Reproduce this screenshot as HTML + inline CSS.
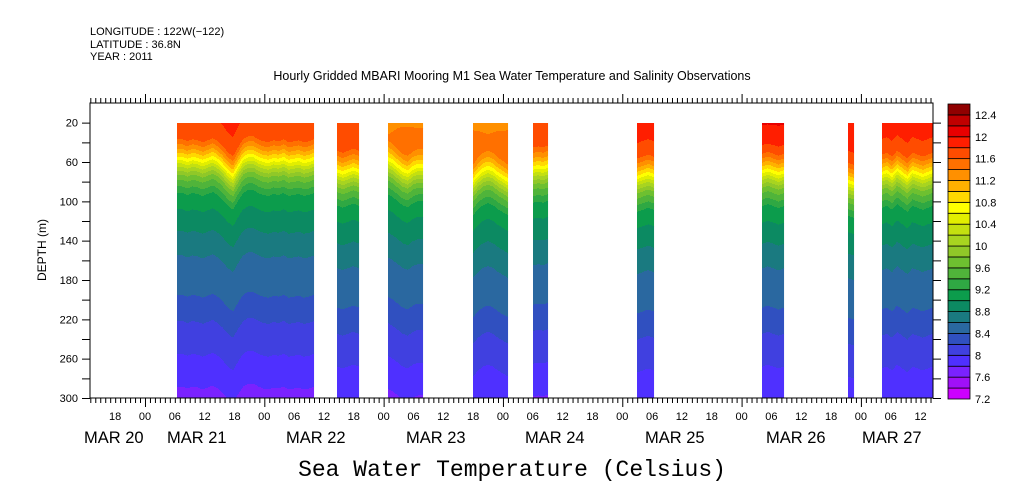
<!DOCTYPE html>
<html><head><meta charset="utf-8">
<style>
body{margin:0;background:#fff;}
svg{display:block;font-family:"Liberation Sans",sans-serif;}
</style></head>
<body>
<svg id="chart" width="1009" height="504" viewBox="0 0 1009 504" xmlns="http://www.w3.org/2000/svg">
<g font-size="11" fill="#000">
<text x="90" y="35">LONGITUDE : 122W(−122)</text>
<text x="90" y="48">LATITUDE : 36.8N</text>
<text x="90" y="60">YEAR : 2011</text>
</g>
<text x="512" y="80" text-anchor="middle" font-size="12.5">Hourly Gridded MBARI Mooring M1 Sea Water Temperature and Salinity Observations</text>
<g id="field"></g>
<g id="axes"></g>
<g id="cbar"></g>
<text x="512" y="476" text-anchor="middle" font-family="Liberation Mono, monospace" font-size="23">Sea Water Temperature (Celsius)</text>
<text transform="translate(46,250) rotate(-90)" text-anchor="middle" font-size="12">DEPTH (m)</text>
</svg>
<script>
// ---- data ----
const segStart = [30.5, 62.7, 72.8, 90.0, 102.1, 123.0, 148.2, 165.4, 172.2];
const segEnd   = [58.0, 67.0, 79.9, 97.0, 105.1, 126.3, 152.5, 166.6, 182.5];
const segShift = [
 [-5,-5,-3,-5,-4,-2,-4,-6,-3,2,8,12,3,-5,-8,-8,-5,-3,-2,-4,-3,-5,-2,-3,-4,-2,-3,-5],
 [8,10,8,6,8],
 [-3,0,4,8,10,6,4,4],
 [18,12,8,6,8,12,15,18],
 [5,4,5,3],
 [14,12,10,12],
 [8,6,8,10,8],
 [18,20],
 [10,8,12,6,10,14,8,10,12,10,8]
];
const segSurf = [11.8, 11.6, 11.3, 11.2, 11.6, 11.85, 12.0, 11.95, 11.85];
const baseDepth = [0, 20, 40, 50, 60, 70, 80, 100, 120, 140, 160, 180, 200, 220, 240, 260, 280, 300, 340];
const baseTemp  = [11.9, 11.85, 11.7, 11.3, 10.8, 10.2, 9.7, 9.1, 8.95, 8.75, 8.6, 8.5, 8.4, 8.25, 8.1, 8.0, 7.9, 7.75, 7.5];
const levels = [7.2,7.4,7.6,7.8,8.0,8.2,8.4,8.6,8.8,9.0,9.2,9.4,9.6,9.8,10.0,10.2,10.4,10.6,10.8,11.0,11.2,11.4,11.6,11.8,12.0,12.2,12.4,12.6];
const levelColors = ["#cc00ff","#a010f8","#7a22ff","#4f30ff","#4040e0","#3050c0","#2a68a0","#1a7a80","#0c8a62","#0c9c4c","#2fa843","#50b43a","#6ec030","#90c828","#a8d420","#c4e010","#e2ee00","#ffff00","#ffd800","#ffb000","#ff9000","#ff7000","#ff4c00","#ff1e00","#e80000","#c00000","#900000"];
const cbarLabels = ["7.2","7.6","8","8.4","8.8","9.2","9.6","10","10.4","10.8","11.2","11.6","12","12.4"];
const depthTicks = [20,60,100,140,180,220,260,300];
const hourLabels = ["18","00","06","12","18","00","06","12","18","00","06","12","18","00","06","12","18","00","06","12","18","00","06","12","18","00","06","12","18","00","06","12"];
const dayLabels = ["MAR 20","MAR 21","MAR 22","MAR 23","MAR 24","MAR 25","MAR 26","MAR 27"];
const dayLabelX = [84,167,286,406,525,645,766,862];

// ---- scales ----
const X0=90, X1=933, Y0=103, Y1=398, H0=12.94, H1=182.5, D0=0, D1=300;
const xs = h => X0 + (h-H0)*(X1-X0)/(H1-H0);
const ys = d => Y0 + (d-D0)*(Y1-Y0)/(D1-D0);
const NS="http://www.w3.org/2000/svg";
function mk(tag, attrs, parent){const e=document.createElementNS(NS,tag);for(const k in attrs)e.setAttribute(k,attrs[k]);parent.appendChild(e);return e;}
function interp(xa, ya, x){ if(x<=xa[0])return ya[0]; for(let i=1;i<xa.length;i++){ if(x<=xa[i]){const t=(x-xa[i-1])/(xa[i]-xa[i-1]);return ya[i-1]+t*(ya[i]-ya[i-1]);}} return ya[ya.length-1];}
function temp(d, shift, surf){ return interp(baseDepth, baseTemp, d-shift) + (surf-11.85)*Math.exp(-(d-20)/25); }
function band(t){ for(let i=0;i<levelColors.length;i++){ if(t<levels[i+1]) return i;} return levelColors.length-1; }

// ---- field ----
const field=document.getElementById('field');
for(let s=0;s<segStart.length;s++){
  const g=mk('g',{},field);
  
  
  const xa=Math.round(xs(segStart[s])), xb=Math.round(xs(segEnd[s]));
  const sh=segShift[s];
  for(let px=xa;px<xb;px++){
    const h=H0+(px+0.5-X0)*(H1-H0)/(X1-X0);
    const f=Math.max(0,Math.min(sh.length-1,(h-segStart[s])/(segEnd[s]-segStart[s])*(sh.length-1)));
    const i0=Math.floor(f), i1=Math.min(sh.length-1,i0+1);
    const shift=sh[i0]+(f-i0)*(sh[i1]-sh[i0]);
    let runStart=0, cur=null;
    for(let py=Math.round(ys(20));py<=Y1;py++){
      const d=D0+(py+0.5-Y0)*(D1-D0)/(Y1-Y0);
      const b=py<Y1?band(temp(d,shift,segSurf[s])):-1;
      if(cur===null){cur=b;runStart=py;continue;}
      if(b!==cur){
        const r=mk('rect',{x:px,y:runStart,width:1.05,height:py-runStart+0.3,fill:levelColors[cur]},g);
        
        
        cur=b;runStart=py;
      }
    }
  }
}

// ---- axes ----
const axes=document.getElementById('axes');
const frame=mk('rect',{x:X0,y:Y0,width:X1-X0,height:Y1-Y0,fill:'none',stroke:'#000','stroke-width':1},axes);


let tp='';
for(let h=Math.ceil(H0);h<=H1;h++){
  const x=xs(h)+0.5; const major=(h%24===0); const len=major?9:5;
  tp+=`M${x} ${Y0}v-${len}M${x} ${Y1}v${len}`;
}
for(let d=20;d<=300;d+=20){const y=ys(d)+0.5; tp+=`M${X0} ${y}h-8M${X1} ${y}h8`;}
const ticks=mk('path',{d:tp,stroke:'#000','stroke-width':1,fill:'none'},axes);


depthTicks.forEach(d=>{
  const t=mk('text',{x:78,y:ys(d)+4,'text-anchor':'end','font-size':11},axes);
  t.textContent=d;
  
  
});
hourLabels.forEach((lab,i)=>{
  const h=18+6*i;
  if(h>H1) return;
  const t=mk('text',{x:xs(h),y:420,'text-anchor':'middle','font-size':11},axes);
  t.textContent=lab;
  
  
});
dayLabels.forEach((lab,i)=>{
  const t=mk('text',{x:dayLabelX[i],y:443,'font-size':16.5},axes);
  t.textContent=lab;
  
  
});

// ---- colorbar ----
const cb=document.getElementById('cbar');
const CX=948, CW=22, CT=104, CB=399;
const bh=(CB-CT)/levelColors.length;
levelColors.forEach((c,i)=>{
  const r=mk('rect',{x:CX,y:CB-(i+1)*bh,width:CW,height:bh,fill:c,stroke:'#000','stroke-width':0.8},cb);
  
  
});
cbarLabels.forEach((lab,i)=>{
  const t=mk('text',{x:975,y:CB-i*2*bh+4,'font-size':11},cb);
  t.textContent=lab;
  
  
});
</script>
</body></html>
